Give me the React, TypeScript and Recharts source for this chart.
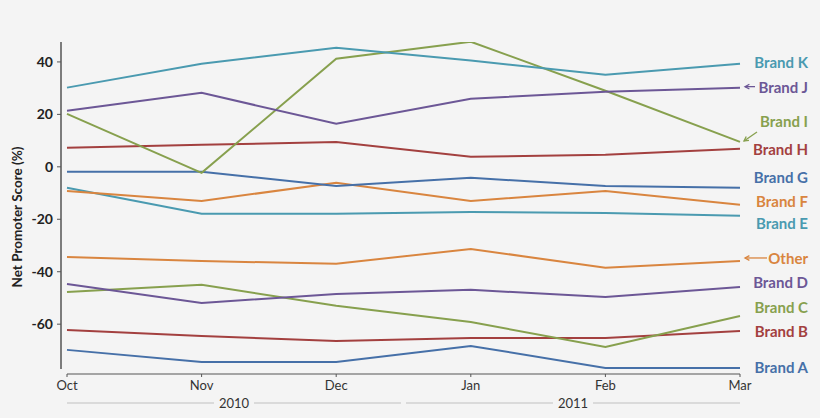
import { Line, LineChart, XAxis, YAxis } from "recharts";

const months = ["Oct", "Nov", "Dec", "Jan", "Feb", "Mar"];
const years = [
  { label: "2010", from: 0, to: 2 },
  { label: "2011", from: 3, to: 5 },
];
const yTicks = [-60, -40, -20, 0, 20, 40];

const brandA = [-69.8, -74.4, -74.4, -68.3, -76.7, -76.7];
const brandB = [-62.2, -64.5, -66.4, -65.3, -65.3, -62.6];
const brandC = [-47.7, -45.0, -53.0, -59.2, -68.7, -56.9];
const brandD = [-44.7, -51.9, -48.5, -46.9, -49.6, -45.8];
const other = [-34.4, -35.9, -37.0, -31.3, -38.5, -35.9];
const brandE = [-8.0, -17.9, -17.9, -17.2, -17.6, -18.7];
const brandF = [-9.2, -13.0, -6.1, -13.0, -9.2, -14.5];
const brandG = [-1.9, -1.9, -7.3, -4.2, -7.3, -8.0];
const brandH = [7.3, 8.4, 9.5, 3.8, 4.6, 6.9];
const brandI = [20.2, -2.3, 41.2, 47.7, 29.0, 9.5];
const brandJ = [21.4, 28.2, 16.4, 26.0, 28.6, 30.2];
const brandK = [30.2, 39.3, 45.4, 40.5, 35.1, 39.3];

const BLUE = "#4670a8";
const RED = "#a3403f";
const GREEN = "#87a04e";
const PURPLE = "#6c5796";
const ORANGE = "#d9853f";
const TEAL = "#4a9ab0";

const series = [
  { name: "Brand A", values: brandA, color: BLUE },
  { name: "Brand B", values: brandB, color: RED },
  { name: "Brand C", values: brandC, color: GREEN },
  { name: "Brand D", values: brandD, color: PURPLE },
  { name: "Other", values: other, color: ORANGE },
  { name: "Brand E", values: brandE, color: TEAL },
  { name: "Brand F", values: brandF, color: ORANGE },
  { name: "Brand G", values: brandG, color: BLUE },
  { name: "Brand H", values: brandH, color: RED },
  { name: "Brand I", values: brandI, color: GREEN },
  { name: "Brand J", values: brandJ, color: PURPLE },
  { name: "Brand K", values: brandK, color: TEAL },
];

// end-label nudges (px) so the names don't collide
const labelDy: Record<string, number> = {
  "Brand A": -1, "Brand B": 0, "Brand C": -9, "Brand D": -5, Other: -3,
  "Brand E": 7, "Brand F": -4, "Brand G": -11, "Brand H": 0,
  "Brand I": -21, "Brand J": -1, "Brand K": -2,
};

const rows = months.map((m, i) => {
  const r: Record<string, string | number> = { month: m };
  series.forEach((s) => (r[s.name] = s.values[i]));
  return r;
});

const W = 820;
const H = 418;
const M = { top: 42, right: 80, left: 16, bottom: 0 };
const Y_W = 45;
const PAD_L = 6;
const step = (W - M.right - M.left - Y_W - PAD_L) / (months.length - 1);
const FONT = "Lato, 'Open Sans', sans-serif";
const BG = "#f4f4f4";

function arrow(x1: number, y1: number, x2: number, y2: number, color: string) {
  const a = Math.atan2(y2 - y1, x2 - x1);
  const h = 5;
  const p1 = [x2 - h * Math.cos(a - 0.5), y2 - h * Math.sin(a - 0.5)];
  const p2 = [x2 - h * Math.cos(a + 0.5), y2 - h * Math.sin(a + 0.5)];
  return (
    <g stroke={color} strokeWidth={1.3} fill="none">
      <line x1={x1} y1={y1} x2={x2} y2={y2} />
      <polyline points={`${p1[0]},${p1[1]} ${x2},${y2} ${p2[0]},${p2[1]}`} />
    </g>
  );
}

function endLabel(p: any, name: string, color: string) {
  if (p.index !== months.length - 1) return <g />;
  const x = p.x;
  const y = p.y + labelDy[name];
  return (
    <g>
      {name === "Brand J" && arrow(x + 15, y, x + 5, y, color)}
      {name === "Other" && arrow(x + 27, y, x + 5, y, color)}
      {name === "Brand I" && arrow(x + 17, p.y - 10, x + 4, p.y - 1, color)}
      <text
        x={x + 68}
        y={y}
        textAnchor="end"
        dominantBaseline="central"
        fill={color}
        fontFamily={FONT}
        fontWeight={700}
        fontSize={15}
      >
        {name}
      </text>
    </g>
  );
}

function YearTick(p: any) {
  const span = years.find((yr) => yr.from === p.index);
  if (!span) return <g />;
  const x0 = span.from === 0 ? p.x : p.x - step / 2 + 2.5;
  const x1 = span.to === months.length - 1 ? p.x + (span.to - span.from) * step : p.x + (span.to - span.from + 0.5) * step - 2.5;
  const cx = (x0 + x1) / 2;
  const ly = p.y + 7;
  return (
    <g>
      <line x1={x0} y1={ly} x2={x1} y2={ly} stroke="#d2d2d2" strokeWidth={1.5} />
      <rect x={cx - 20} y={ly - 7} width={40} height={14} fill={BG} />
      <text x={cx} y={ly} textAnchor="middle" dominantBaseline="central" fill="#333" fontFamily={FONT} fontSize={13}>
        {span.label}
      </text>
    </g>
  );
}

export default function App() {
  return (
    <div style={{ position: "absolute", left: 0, top: 0, width: W, height: H, background: BG }}>
      <LineChart width={W} height={H} data={rows} margin={M}>
        <XAxis
          dataKey="month"
          padding={{ left: PAD_L, right: 0 }}
          height={22}
          tickSize={3}
          tickMargin={4}
          axisLine={{ stroke: "#555", strokeDasharray: `0 ${PAD_L} 1000` }}
          tickLine={{ stroke: "#555" }}
          tick={{ fill: "#333", fontFamily: FONT, fontSize: 13 }}
          interval={0}
        />
        <XAxis
          xAxisId="year"
          dataKey="month"
          padding={{ left: PAD_L, right: 0 }}
          height={22}
          tickSize={0}
          tickMargin={0}
          axisLine={false}
          tickLine={false}
          tick={<YearTick />}
          interval={0}
        />
        <YAxis
          width={Y_W}
          domain={[-79, 47.6]}
          allowDataOverflow
          ticks={yTicks}
          tickSize={4}
          tickMargin={4}
          axisLine={{ stroke: "#555", strokeWidth: 1.5, strokeDasharray: "327 20" }}
          tickLine={{ stroke: "#555" }}
          tick={{ fill: "#222", fontFamily: FONT, fontSize: 14, fontWeight: 700 }}
          label={{
            content: () => (
              <text
                x={17}
                y={217}
                transform="rotate(-90 17 217)"
                textAnchor="middle"
                dominantBaseline="central"
                fill="#222"
                fontFamily={FONT}
                fontWeight={700}
                fontSize={13.5}
              >
                Net Promoter Score (%)
              </text>
            ),
          }}
        />
        {series.map((s) => (
          <Line
            key={s.name}
            dataKey={s.name}
            stroke={s.color}
            strokeWidth={2}
            dot={false}
            activeDot={false}
            type="linear"
            isAnimationActive={false}
            label={(p: any) => endLabel(p, s.name, s.color)}
          />
        ))}
      </LineChart>
    </div>
  );
}
